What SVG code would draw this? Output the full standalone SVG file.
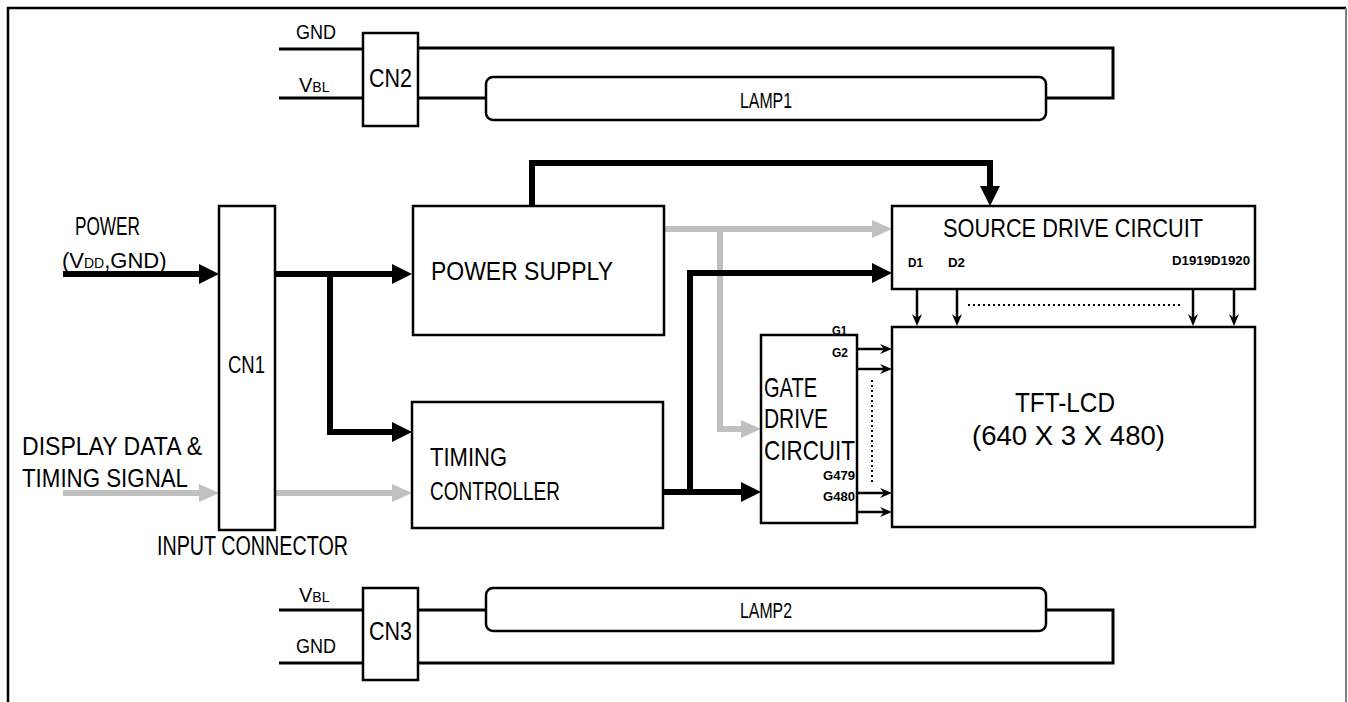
<svg xmlns="http://www.w3.org/2000/svg" width="1348" height="702" viewBox="0 0 1348 702">
<style>
text{font-family:"Liberation Sans","DejaVu Sans",sans-serif;fill:#000}
.t25{font-size:26px}
.t22{font-size:22px}
.t20{font-size:21px}
.sub{font-size:14px}
.sm{font-size:13px;font-weight:bold}
.box{fill:#fff;stroke:#000;stroke-width:2.5}
.lamp{fill:#fff;stroke:#000;stroke-width:2.5}
.wire{fill:none;stroke:#000;stroke-width:3}
.thick{fill:none;stroke:#000;stroke-width:6;stroke-linejoin:miter}
.grey{fill:none;stroke:#c0c0c0;stroke-width:6;stroke-linejoin:miter}
.thin{fill:none;stroke:#000;stroke-width:2.5}
.dot{fill:none;stroke:#000;stroke-width:2;stroke-dasharray:2 3}
</style>
<defs>
<marker id="ab" markerUnits="userSpaceOnUse" markerWidth="20" markerHeight="20" refX="8" refY="10" orient="auto"><path d="M0,0 L20,10 L0,20 z" fill="#000"/></marker>
<marker id="ag" markerUnits="userSpaceOnUse" markerWidth="20" markerHeight="20" refX="8" refY="10" orient="auto"><path d="M0,1 L20,10 L0,19 z" fill="#c0c0c0"/></marker>
<marker id="as" markerUnits="userSpaceOnUse" markerWidth="12" markerHeight="12" refX="6" refY="6" orient="auto"><path d="M0,1 L12,6 L0,11 L4,6 z" fill="#000"/></marker>
</defs>

<g id="frame">
<path d="M8,702 V8 H1346" fill="none" stroke="#000" stroke-width="2.5"/>
<line x1="1346" y1="8" x2="1346" y2="702" stroke="#808080" stroke-width="2"/>
</g>

<g id="connectors">
<line class="wire" x1="279" y1="49" x2="363" y2="49"/>
<line class="wire" x1="279" y1="98" x2="363" y2="98"/>
<polyline class="wire" points="418,48 1113,48 1113,98 1046,98"/>
<line class="wire" x1="418" y1="98" x2="486" y2="98"/>
<line class="wire" x1="279" y1="610" x2="363" y2="610"/>
<line class="wire" x1="279" y1="663" x2="363" y2="663"/>
<line class="wire" x1="418" y1="610" x2="486" y2="610"/>
<polyline class="wire" points="1046,610 1113,610 1113,663 418,663"/>
<line class="thick" x1="63" y1="274" x2="207" y2="274" marker-end="url(#ab)"/>
<line class="thick" x1="275" y1="274" x2="400" y2="274" marker-end="url(#ab)"/>
<polyline class="thick" points="330,274 330,432 400,432" marker-end="url(#ab)"/>
<polyline class="thick" points="532,206 532,163 990,163 990,194" marker-end="url(#ab)"/>
<line class="grey" x1="63" y1="493" x2="207" y2="493" marker-end="url(#ag)"/>
<line class="grey" x1="275" y1="493" x2="400" y2="493" marker-end="url(#ag)"/>
<line class="grey" x1="664" y1="229" x2="880" y2="229" marker-end="url(#ag)"/>
<polyline class="grey" points="720,229 720,429 749,429" marker-end="url(#ag)"/>
<line class="thick" x1="663" y1="492" x2="749" y2="492" marker-end="url(#ab)"/>
<polyline class="thick" points="690,492 690,273 880,273" marker-end="url(#ab)"/>
<line class="thin" x1="917" y1="289" x2="917" y2="320" marker-end="url(#as)"/>
<line class="thin" x1="957" y1="289" x2="957" y2="320" marker-end="url(#as)"/>
<line class="thin" x1="1193" y1="289" x2="1193" y2="320" marker-end="url(#as)"/>
<line class="thin" x1="1234" y1="289" x2="1234" y2="320" marker-end="url(#as)"/>
<line class="dot" x1="968" y1="305" x2="1180" y2="305"/>
<line class="thin" x1="857" y1="349" x2="886" y2="349" marker-end="url(#as)"/>
<line class="thin" x1="857" y1="369" x2="886" y2="369" marker-end="url(#as)"/>
<line class="thin" x1="857" y1="493" x2="886" y2="493" marker-end="url(#as)"/>
<line class="thin" x1="857" y1="512" x2="886" y2="512" marker-end="url(#as)"/>
<line class="dot" x1="872" y1="380" x2="872" y2="483"/>
</g>

<g id="labels">
<text class="t20" x="296" y="39" textLength="40" lengthAdjust="spacingAndGlyphs">GND</text>
<text x="299" y="92" style="font-size:20px">V<tspan class="sub">BL</tspan></text>
<text x="299" y="602" style="font-size:20px">V<tspan class="sub">BL</tspan></text>
<text class="t20" x="296" y="653" textLength="40" lengthAdjust="spacingAndGlyphs">GND</text>
<text class="t25" x="75" y="235" textLength="65" lengthAdjust="spacingAndGlyphs">POWER</text>
<text x="62" y="268" style="font-size:22px">(V<tspan class="sub">DD</tspan>,GND)</text>
<text class="t25" x="22" y="455" textLength="180" lengthAdjust="spacingAndGlyphs">DISPLAY DATA &amp;</text>
<text class="t25" x="22" y="487" textLength="166" lengthAdjust="spacingAndGlyphs">TIMING SIGNAL</text>
<text class="t25" x="157" y="555" textLength="191" lengthAdjust="spacingAndGlyphs" style="font-size:27px">INPUT CONNECTOR</text>
</g>

<g id="cn2"><rect class="box" x="363" y="33" width="55" height="93"/><text class="t25" x="369" y="87" textLength="43" lengthAdjust="spacingAndGlyphs">CN2</text></g>
<g id="lamp1"><rect class="lamp" x="486" y="77" width="560" height="43" rx="7"/><text class="t22" x="740" y="108" textLength="52" lengthAdjust="spacingAndGlyphs">LAMP1</text></g>
<g id="cn3"><rect class="box" x="363" y="588" width="55" height="92"/><text class="t25" x="369" y="640" textLength="43" lengthAdjust="spacingAndGlyphs">CN3</text></g>
<g id="lamp2"><rect class="lamp" x="486" y="588" width="560" height="43" rx="7"/><text class="t22" x="740" y="618" textLength="52" lengthAdjust="spacingAndGlyphs">LAMP2</text></g>

<g id="cn1"><rect class="box" x="219" y="206" width="56" height="324"/><text class="t22" x="228" y="373" textLength="37" lengthAdjust="spacingAndGlyphs" style="font-size:23px">CN1</text></g>

<g id="power-supply"><rect class="box" x="413" y="206" width="251" height="129"/><text class="t25" x="431" y="280" textLength="182" lengthAdjust="spacingAndGlyphs">POWER SUPPLY</text></g>

<g id="timing-controller"><rect class="box" x="412" y="402" width="251" height="126"/>
<text class="t25" x="430" y="466" textLength="77" lengthAdjust="spacingAndGlyphs">TIMING</text>
<text class="t25" x="430" y="500" textLength="130" lengthAdjust="spacingAndGlyphs">CONTROLLER</text></g>

<g id="source-drive"><rect class="box" x="892" y="206" width="363" height="83"/>
<text class="t25" x="943" y="237" textLength="260" lengthAdjust="spacingAndGlyphs">SOURCE DRIVE CIRCUIT</text>
<text class="sm" x="908" y="267" textLength="15" lengthAdjust="spacingAndGlyphs">D1</text>
<text class="sm" x="948" y="267" textLength="17" lengthAdjust="spacingAndGlyphs">D2</text>
<text class="sm" x="1172" y="265" textLength="78" lengthAdjust="spacingAndGlyphs">D1919D1920</text></g>

<g id="gate-drive"><rect class="box" x="761" y="335" width="96" height="188"/>
<text class="t25" x="764" y="397" textLength="53" lengthAdjust="spacingAndGlyphs" style="font-size:28px">GATE</text>
<text class="t25" x="764" y="428" textLength="64" lengthAdjust="spacingAndGlyphs" style="font-size:28px">DRIVE</text>
<text class="t25" x="764" y="460" textLength="91" lengthAdjust="spacingAndGlyphs" style="font-size:28px">CIRCUIT</text>
<text class="sm" x="832" y="335" textLength="15" lengthAdjust="spacingAndGlyphs">G1</text>
<text class="sm" x="832" y="357" textLength="16" lengthAdjust="spacingAndGlyphs">G2</text>
<text class="sm" x="823" y="480" textLength="32" lengthAdjust="spacingAndGlyphs">G479</text>
<text class="sm" x="823" y="501" textLength="32" lengthAdjust="spacingAndGlyphs">G480</text></g>

<g id="tft-lcd"><rect class="box" x="892" y="327" width="363" height="200"/>
<text class="t25" x="1015" y="412" textLength="100" lengthAdjust="spacingAndGlyphs" style="font-size:28px">TFT-LCD</text>
<text class="t25" x="972" y="445" textLength="193" lengthAdjust="spacingAndGlyphs" style="font-size:28px">(640 X 3 X 480)</text></g>
</svg>
